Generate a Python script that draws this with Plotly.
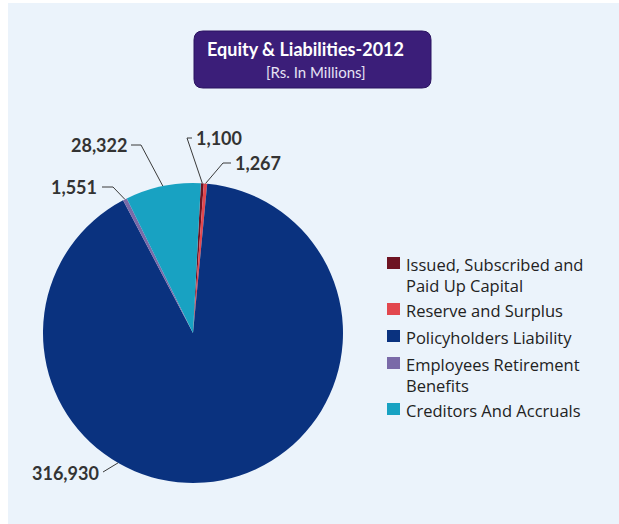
import math
import plotly.graph_objects as go

# ---- data ----
categories = ["Issued, Subscribed and Paid Up Capital", "Reserve and Surplus",
              "Policyholders Liability", "Employees Retirement Benefits",
              "Creditors And Accruals"]
legend_labels = ["Issued, Subscribed and<br>Paid Up Capital", "Reserve and Surplus",
                 "Policyholders Liability", "Employees Retirement<br>Benefits",
                 "Creditors And Accruals"]
values = [1100, 1267, 316930, 1551, 28322]
colors = ["#6E1322", "#E2474E", "#0A327F", "#7A6AA8", "#18A2C2"]
title_main = "Equity & Liabilities-2012"
title_sub = "[Rs. In Millions]"

# ---- layout geometry (pixels) ----
W, H = 619, 524
CX, CY, R = 193, 333, 150
ROT = 3


def px(x):
    return x / W


def py(y):
    return 1 - y / H


fig = go.Figure(go.Pie(
    labels=categories, values=values, sort=False, direction="clockwise",
    rotation=ROT, textinfo="none", hoverinfo="label+value", showlegend=False,
    marker=dict(colors=colors, line=dict(width=0)),
    domain=dict(x=[px(CX - R), px(CX + R)], y=[py(CY + R), py(CY - R)]),
))

shapes = []
annotations = []

# panel background
shapes.append(dict(type="rect", xref="paper", yref="paper", x0=px(8), x1=1, y0=0, y1=py(3),
                   fillcolor="#EBF3FB", line=dict(width=0), layer="below"))

# title box (rounded)
bx0, by0, bx1, by1, rr = 194, 31, 431, 88, 9
pts = [
    f"M{px(bx0 + rr)},{py(by0)}", f"L{px(bx1 - rr)},{py(by0)}",
    f"Q{px(bx1)},{py(by0)} {px(bx1)},{py(by0 + rr)}", f"L{px(bx1)},{py(by1 - rr)}",
    f"Q{px(bx1)},{py(by1)} {px(bx1 - rr)},{py(by1)}", f"L{px(bx0 + rr)},{py(by1)}",
    f"Q{px(bx0)},{py(by1)} {px(bx0)},{py(by1 - rr)}", f"L{px(bx0)},{py(by0 + rr)}",
    f"Q{px(bx0)},{py(by0)} {px(bx0 + rr)},{py(by0)}", "Z",
]
shapes.append(dict(type="path", xref="paper", yref="paper", path=" ".join(pts),
                   fillcolor="#3B1E79", line=dict(color="#2A1260", width=1)))
annotations.append(dict(xref="paper", yref="paper", x=px(305), y=py(49), text="<b>" + title_main + "</b>",
                        showarrow=False, xanchor="center", yanchor="middle",
                        font=dict(family="Lato", size=18, color="white")))
annotations.append(dict(xref="paper", yref="paper", x=px(316), y=py(72), text=title_sub,
                        showarrow=False, xanchor="center", yanchor="middle",
                        font=dict(family="Lato", size=15, color="#E6E2F4")))

# value labels with elbow leader lines; anchors derived from slice angles
total = sum(values)
mids = []
cum = 0
for v in values:
    mids.append(ROT + (cum + v / 2) / total * 360)
    cum += v

label_cfg = [
    # text x, text y, xanchor, line points (px) before anchor, angle override
    dict(tx=194, ty=138, xa="left", pts=[(192, 138), (187, 138)], ang=None),
    dict(tx=233, ty=163, xa="left", pts=[(231, 163), (223, 163)], ang=None),
    dict(tx=101, ty=473, xa="right", pts=[(103, 472)], ang=210),
    dict(tx=99, ty=187, xa="right", pts=[(102, 187), (113, 187)], ang=None),
    dict(tx=129, ty=145, xa="right", pts=[(131, 145), (141, 145)], ang=None),
]
for v, m, cfg in zip(values, mids, label_cfg):
    a = math.radians(cfg["ang"] if cfg["ang"] is not None else m)
    ax_, ay_ = CX + R * math.sin(a), CY - R * math.cos(a)
    p = cfg["pts"] + [(ax_, ay_)]
    path = "M" + " L".join(f"{px(x)},{py(y)}" for x, y in p)
    shapes.append(dict(type="path", xref="paper", yref="paper", path=path,
                       line=dict(color="#3A3A3A", width=1)))
    annotations.append(dict(xref="paper", yref="paper", x=px(cfg["tx"]), y=py(cfg["ty"]),
                            text=f"<b>{v:,}</b>", showarrow=False, xanchor=cfg["xa"],
                            yanchor="middle",
                            font=dict(family="Lato", size=18, color="#333333")))

# legend
FS = 16.5
ly = 263
for lab, col in zip(legend_labels, colors):
    nlines = lab.count("<br>") + 1
    shapes.append(dict(type="rect", xref="paper", yref="paper",
                       x0=px(387), x1=px(400), y0=py(ly + 6), y1=py(ly - 6),
                       fillcolor=col, line=dict(width=0)))
    annotations.append(dict(xref="paper", yref="paper", x=px(404), y=py(ly - FS * 0.65 - 1),
                            text=lab, showarrow=False, xanchor="left", yanchor="top",
                            align="left",
                            font=dict(family="Open Sans", size=FS, color="#222222")))
    ly += 27 + 19 * (nlines - 1)

fig.update_layout(width=W, height=H, margin=dict(l=0, r=0, t=0, b=0),
                  paper_bgcolor="white", plot_bgcolor="white",
                  shapes=shapes, annotations=annotations)
fig.write_html("out.html", config={"displayModeBar": False},
               post_script="document.body.style.margin='0';document.body.style.overflow='hidden';")
